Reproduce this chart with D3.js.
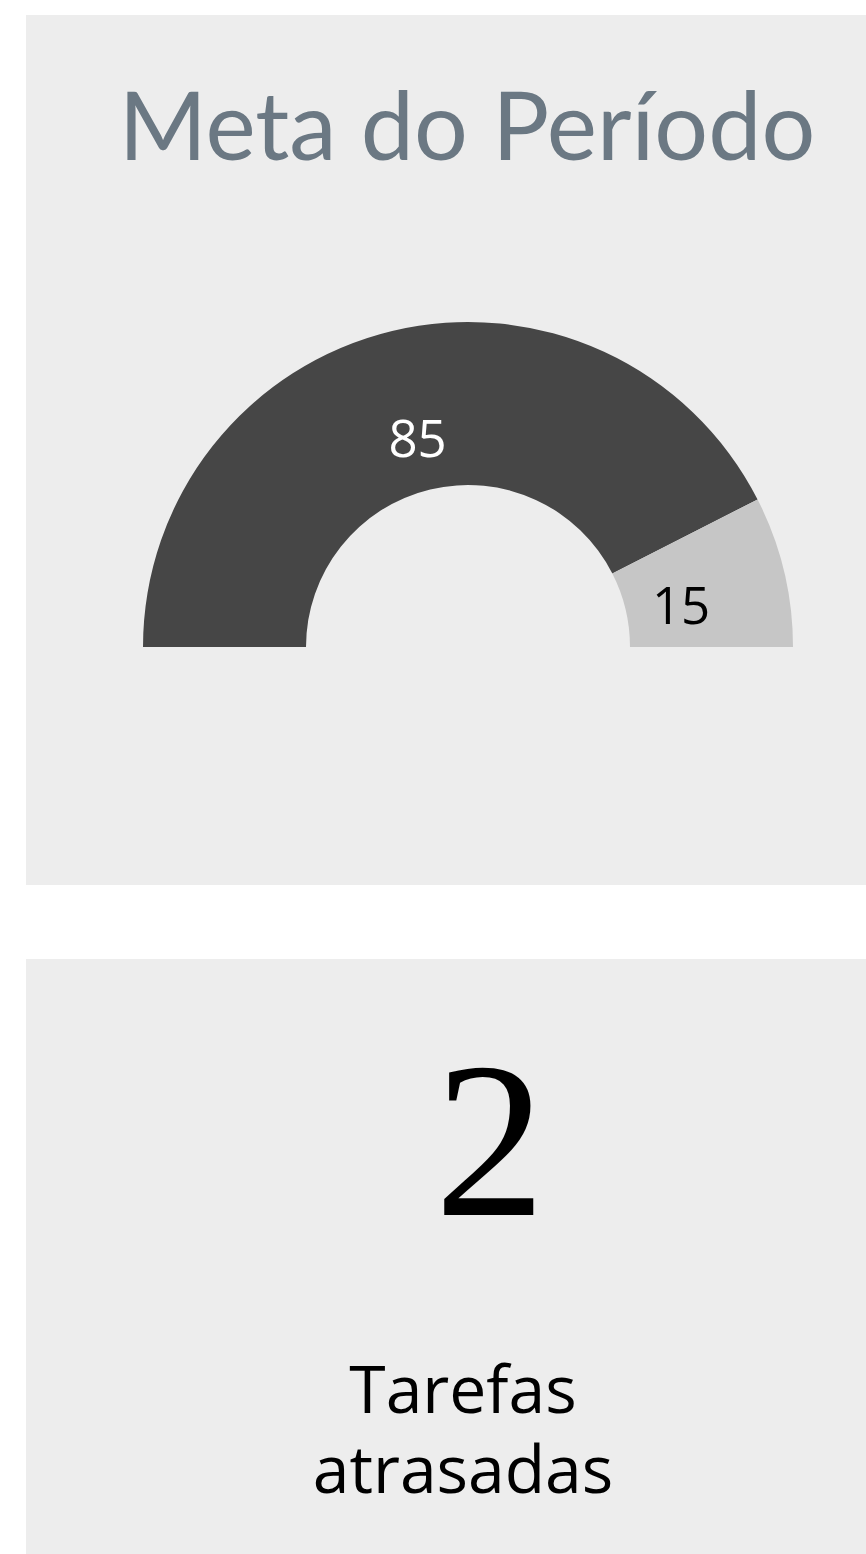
<!DOCTYPE html>
<html>
<head>
<meta charset="utf-8">
<script src="https://cdn.jsdelivr.net/npm/d3@7"></script>
<style>
  html, body { margin: 0; padding: 0; background: #ffffff; overflow: hidden; }
  svg { display: block; }
</style>
</head>
<body>
<script>
// ---- data ----
const chartTitle = "Meta do Período";
const gaugeCategories = ["Atingido", "Restante"];
const gaugeValues = [85, 15];
const gaugeColors = ["#464646", "#c6c6c6"];
const gaugeLabelColors = ["#ffffff", "#000000"];
const kpiValue = 2;
const kpiLabelLines = ["Tarefas", "atrasadas"];

// ---- layout ----
const W = 866, H = 1554;
const svg = d3.select("body").append("svg").attr("width", W).attr("height", H);

const panelX = 26, panelW = 884;
const cx = panelX + panelW / 2;

// panel 1
svg.append("rect").attr("x", panelX).attr("y", 15).attr("width", panelW).attr("height", 870).attr("fill", "#ededed");
// panel 2
svg.append("rect").attr("x", panelX).attr("y", 959).attr("width", panelW).attr("height", 700).attr("fill", "#ededed");

// title
svg.append("text")
  .attr("x", cx - 1).attr("y", 160)
  .attr("text-anchor", "middle")
  .attr("font-family", "Lato, sans-serif")
  .attr("font-size", 95)
  .attr("fill", "#6b7883")
  .text(chartTitle);

// gauge
const data = gaugeCategories.map((c, i) => ({ cat: c, value: gaugeValues[i], color: gaugeColors[i], lc: gaugeLabelColors[i] }));
const pie = d3.pie().value(d => d.value).sort(null).startAngle(-Math.PI / 2).endAngle(Math.PI / 2);
const arc = d3.arc().innerRadius(162).outerRadius(325);
const labelArc = d3.arc().innerRadius(216).outerRadius(216);

const g = svg.append("g").attr("transform", `translate(${cx},647)`);
const arcs = pie(data);
g.selectAll("path").data(arcs).join("path")
  .attr("d", arc)
  .attr("fill", d => d.data.color);

g.selectAll("text").data(arcs).join("text")
  .attr("transform", d => { const c = labelArc.centroid(d); return `translate(${c[0] + (d.index ? 3 : 0)},${c[1] + (d.index ? 7 : 0)})`; })
  .attr("text-anchor", "middle")
  .attr("dominant-baseline", "central")
  .attr("font-family", "'Open Sans', sans-serif")
  .attr("font-size", 51)
  .attr("fill", d => d.data.lc)
  .text(d => d.data.value);

// KPI
svg.append("text")
  .attr("x", 490).attr("y", 1215)
  .attr("text-anchor", "middle")
  .attr("font-family", "'Liberation Serif', 'Times New Roman', serif")
  .attr("font-size", 222)
  .attr("fill", "#000000")
  .text(kpiValue);

svg.append("g")
  .selectAll("text").data(kpiLabelLines).join("text")
  .attr("text-anchor", "middle")
  .attr("font-family", "'Open Sans', sans-serif")
  .attr("font-size", 66)
  .attr("fill", "#000000")
  .attr("x", 463)
  .attr("y", (d, i) => 1413 + i * 80)
  .text(d => d);
</script>
</body>
</html>
